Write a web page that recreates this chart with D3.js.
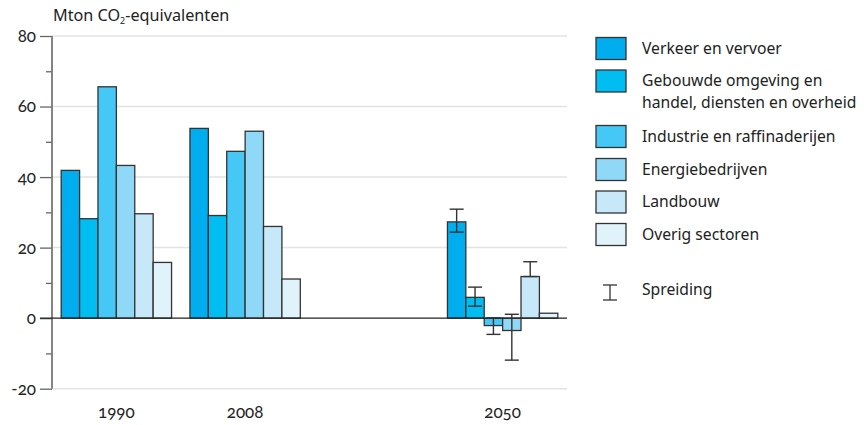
<!DOCTYPE html>
<html>
  <head>
    <meta charset="UTF-8" />
    <script src="https://d3js.org/d3.v7.min.js"></script>
    <style>
      body { margin: 0; background: #fff; }
      text { font-family: "Noto Sans", "Open Sans", sans-serif; fill: #222; }
      .num { font-family: Lato, "Noto Sans", sans-serif; font-variant-numeric: oldstyle-nums; font-feature-settings: "onum" 1; }
    </style>
  </head>
  <body>
    <svg width="864" height="425"></svg>
    <script>
      var years = ["1990", "2008", "", "2050"];
      var sectors = [
        "Verkeer en vervoer",
        "Gebouwde omgeving en handel, diensten en overheid",
        "Industrie en raffinaderijen",
        "Energiebedrijven",
        "Landbouw",
        "Overig sectoren",
      ];
      var legendLines = [
        ["Verkeer en vervoer"],
        ["Gebouwde omgeving en", "handel, diensten en overheid"],
        ["Industrie en raffinaderijen"],
        ["Energiebedrijven"],
        ["Landbouw"],
        ["Overig sectoren"],
      ];
      var colors = ["#00aeef", "#00bdf2", "#45c8f5", "#8fd8f7", "#c6e8f9", "#e0f3fb"];
      var values1990 = [41.9, 28.2, 65.6, 43.3, 29.6, 15.8];
      var values2008 = [53.8, 29.1, 47.3, 53.0, 26.0, 11.1];
      var values2050 = [27.3, 5.9, -2.1, -3.5, 11.8, 1.4];
      var errLow2050 = [24.4, 3.4, -4.6, -11.9, 11.8, null];
      var errHigh2050 = [30.9, 8.8, 0.1, 1.1, 16.0, null];
      var yTicks = [-20, 0, 20, 40, 60, 80];

      var svg = d3.select("svg");
      var left = 52, right = 567;

      var x0 = d3.scaleBand().domain(years).range([left, right]);
      var x1 = d3.scaleBand().domain(sectors)
        .range([0, x0.bandwidth()]).paddingOuter(0.5);
      var y = d3.scaleLinear().domain([-20, 80]).range([388.7, 36]);

      // gridlines
      svg.append("g").selectAll("line")
        .data(yTicks.filter(function (d) { return d !== 0; }))
        .enter().append("line")
        .attr("x1", left).attr("x2", right)
        .attr("y1", function (d) { return y(d); })
        .attr("y2", function (d) { return y(d); })
        .attr("stroke", "#e3e3e3").attr("stroke-width", 1.5);

      // y axis
      var yAxis = svg.append("g").attr("transform", "translate(" + left + ",0)");
      yAxis.call(d3.axisLeft(y).tickValues(d3.range(-20, 81, 10)).tickSize(0).tickFormat(""));
      yAxis.select(".domain").remove();
      yAxis.selectAll(".tick line").remove();
      yAxis.selectAll(".tick").append("line")
        .attr("x1", function (d) { return d % 20 === 0 ? -12 : -6; })
        .attr("x2", 0)
        .attr("stroke", "#666").attr("stroke-width", 1.3);
      yAxis.selectAll(".tick").filter(function (d) { return d % 20 === 0; })
        .append("text")
        .attr("class", "num")
        .attr("x", -16).attr("dy", "0.32em")
        .attr("text-anchor", "end")
        .attr("font-size", 17)
        .text(function (d) { return d; });
      svg.append("line")
        .attr("x1", left).attr("x2", left)
        .attr("y1", y(80)).attr("y2", y(-20))
        .attr("stroke", "#777").attr("stroke-width", 1.8);

      // bars
      var groups = [
        { year: "1990", vals: values1990 },
        { year: "2008", vals: values2008 },
        { year: "2050", vals: values2050 },
      ];
      var g = svg.append("g").selectAll("g")
        .data(groups).enter().append("g")
        .attr("transform", function (d) { return "translate(" + x0(d.year) + ",0)"; });
      g.selectAll("rect")
        .data(function (d) {
          return d.vals.map(function (v, i) { return { key: sectors[i], value: v, i: i }; });
        })
        .enter().append("rect")
        .attr("x", function (d) { return x1(d.key); })
        .attr("y", function (d) { return y(Math.max(0, d.value)); })
        .attr("width", x1.bandwidth())
        .attr("height", function (d) { return Math.abs(y(d.value) - y(0)); })
        .attr("fill", function (d) { return colors[d.i]; })
        .attr("stroke", "#333").attr("stroke-width", 1.3);

      // zero line
      svg.append("line")
        .attr("x1", 40).attr("x2", right)
        .attr("y1", y(0)).attr("y2", y(0))
        .attr("stroke", "#222").attr("stroke-width", 1.4);

      // error bars 2050
      var eb = svg.append("g").selectAll("g")
        .data(sectors.map(function (s, i) {
          return { key: s, lo: errLow2050[i], hi: errHigh2050[i] };
        }).filter(function (d) { return d.lo !== null; }))
        .enter().append("g")
        .attr("transform", function (d) {
          return "translate(" + (x0("2050") + x1(d.key) + x1.bandwidth() / 2) + ",0)";
        })
        .attr("stroke", "#333").attr("stroke-width", 1.4);
      eb.append("line")
        .attr("y1", function (d) { return y(d.lo); })
        .attr("y2", function (d) { return y(d.hi); });
      eb.append("line").attr("x1", -7).attr("x2", 7)
        .attr("y1", function (d) { return y(d.hi); })
        .attr("y2", function (d) { return y(d.hi); });
      eb.append("line").attr("x1", -7).attr("x2", 7)
        .attr("y1", function (d) { return y(d.lo); })
        .attr("y2", function (d) { return y(d.lo); });

      // x labels
      svg.append("g").selectAll("text")
        .data(years.filter(function (d) { return d !== ""; }))
        .enter().append("text")
        .attr("class", "num")
        .attr("x", function (d) { return x0(d) + x0.bandwidth() / 2; })
        .attr("y", 418)
        .attr("text-anchor", "middle")
        .attr("font-size", 17)
        .text(function (d) { return d; });

      // title
      var title = svg.append("text").attr("x", 53).attr("y", 21).attr("font-size", 16.2);
      title.append("tspan").text("Mton CO");
      title.append("tspan").attr("font-size", 9).attr("dy", 3).text("2");
      title.append("tspan").attr("dy", -3).text("-equivalenten");

      // legend
      var legendY = [37.5, 70, 125.5, 158.5, 191, 223.5];
      var lg = svg.append("g").selectAll("g")
        .data(legendLines).enter().append("g")
        .attr("transform", function (d, i) { return "translate(596," + legendY[i] + ")"; });
      lg.append("rect")
        .attr("width", 30).attr("height", 22)
        .attr("fill", function (d, i) { return colors[i]; })
        .attr("stroke", "#333").attr("stroke-width", 1.3);
      lg.each(function (lines) {
        var t = d3.select(this).append("text").attr("x", 46).attr("y", 16).attr("font-size", 15.7);
        lines.forEach(function (l, j) {
          t.append("tspan").attr("x", 46).attr("dy", j === 0 ? 0 : 22).text(l);
        });
      });

      var sp = svg.append("g").attr("transform", "translate(610,0)")
        .attr("stroke", "#333").attr("stroke-width", 1.3);
      sp.append("line").attr("y1", 285).attr("y2", 300);
      sp.append("line").attr("x1", -7).attr("x2", 7).attr("y1", 285).attr("y2", 285);
      sp.append("line").attr("x1", -7).attr("x2", 7).attr("y1", 300).attr("y2", 300);
      svg.append("text").attr("x", 642).attr("y", 295).attr("font-size", 15.7).text("Spreiding");
    </script>
  </body>
</html>
